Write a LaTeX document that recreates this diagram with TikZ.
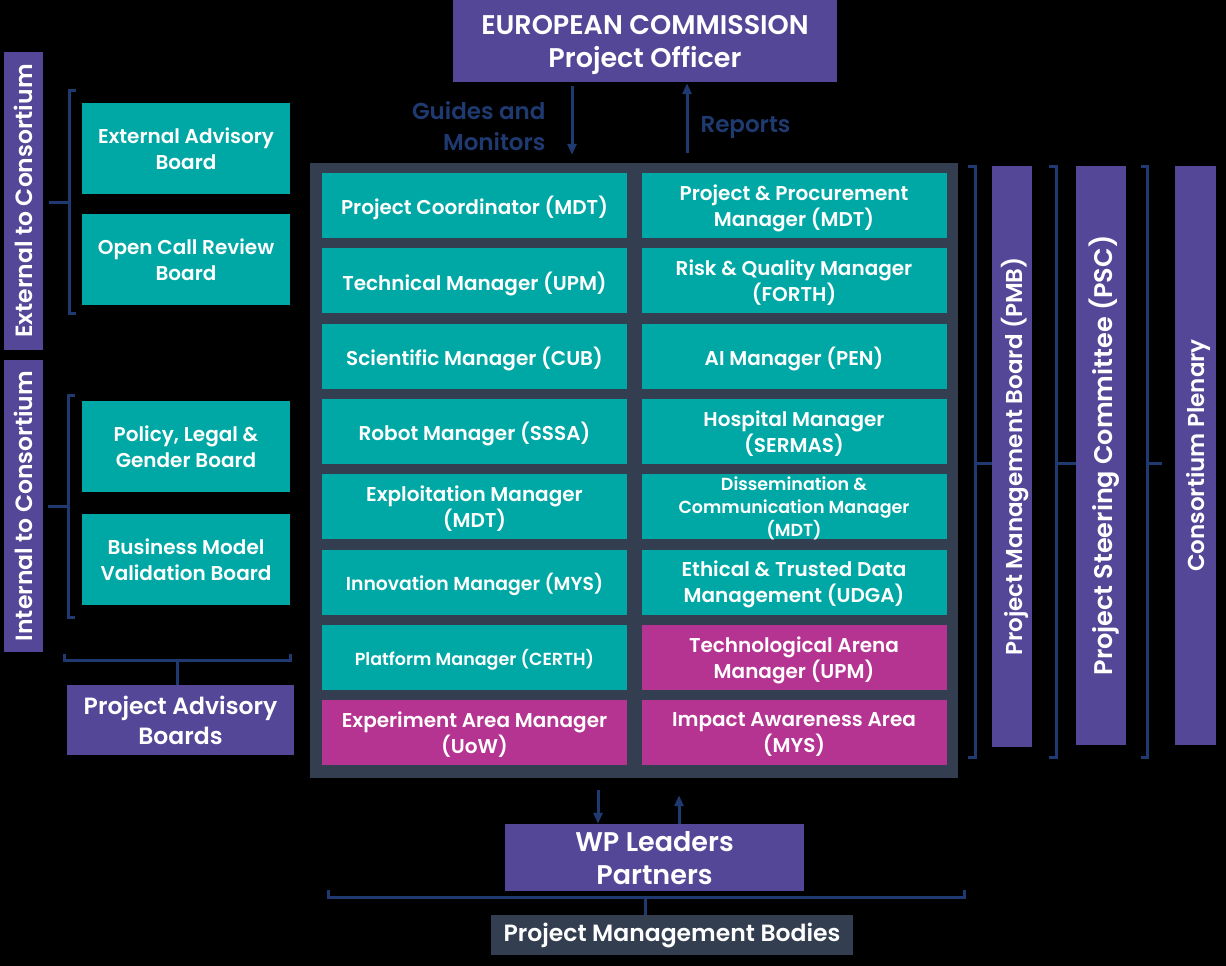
\documentclass[tikz,border=0pt]{standalone}
\usepackage{fontspec}
\setmainfont{Poppins}[BoldFont={Poppins SemiBold}]
\usetikzlibrary{arrows.meta}

\definecolor{ecpurple}{RGB}{85,71,152}
\definecolor{mteal}{RGB}{0,168,165}
\definecolor{mpink}{RGB}{181,52,145}
\definecolor{slate}{RGB}{51,63,80}
\definecolor{navy}{RGB}{31,58,112}

\tikzset{
  role/.style={fill=mteal, text=white, minimum width=305pt, minimum height=65pt,
    inner sep=0pt, text depth=0pt, align=center, font=\bfseries\fontsize{20}{26}\selectfont},
  area/.style={role, fill=mpink},
  board/.style={role, minimum width=208pt, minimum height=91pt},
  body/.style={fill=ecpurple, text=white, inner sep=0pt, text depth=0pt, align=center,
    font=\bfseries\fontsize{23.5}{30}\selectfont},
  sidebar/.style={body, rotate=90},
  brk/.style={navy, line width=3pt},
  flow/.style={navy, line width=3pt, -{Triangle[length=11pt,width=9pt]}},
}

\begin{document}
\begin{tikzpicture}[x=1pt, y=-1pt]

% Fondo
\fill[black] (0,0) rectangle (1226,966);

% Comisión y flujos
\node[body, minimum width=384pt, minimum height=82pt, text depth=-3pt, font=\bfseries\fontsize{27}{33}\selectfont]
  (ec) at (645,41) {EUROPEAN COMMISSION\\Project Officer};
\node[fill=slate, minimum width=648pt, minimum height=615pt] (main) at (634,470.5) {};
\draw[flow, shorten <=4pt, shorten >=8pt] ([xshift=-73pt]ec.south) -- ([xshift=-73pt]ec.south |- main.north);
\draw[flow, shorten <=10pt, shorten >=1pt] ([xshift=42pt]ec.south |- main.north) -- ([xshift=42pt]ec.south);
\node[navy, anchor=east, align=right, font=\bfseries\fontsize{23}{31}\selectfont] (guides) at (549,126) {Guides and\\Monitors};
\node[navy, anchor=west, font=\bfseries\fontsize{23}{31}\selectfont] (reports) at (697,128) {Reports};

% Gestores (izquierda)
\node[role] (pc)  at (474.5,205.5) {Project Coordinator (MDT)};
\node[role] (tm)  at (474.5,280.8) {Technical Manager (UPM)};
\node[role] (sm)  at (474.5,356.1) {Scientific Manager (CUB)};
\node[role] (rm)  at (474.5,431.4) {Robot Manager (SSSA)};
\node[role] (em)  at (474.5,506.7) {Exploitation Manager\\(MDT)};
\node[role, font=\bfseries\fontsize{18.8}{26}\selectfont] (im) at (474.5,582) {Innovation Manager (MYS)};
\node[role, font=\bfseries\fontsize{17.5}{22}\selectfont] (plm) at (474.5,657.3) {Platform Manager (CERTH)};
\node[area] (eam) at (474.5,732.6) {Experiment Area Manager\\(UoW)};

% Gestores (derecha)
\node[role] (ppm) at (794,205.5) {Project \& Procurement\\Manager (MDT)};
\node[role] (rqm) at (794,280.8) {Risk \& Quality Manager\\(FORTH)};
\node[role] (aim) at (794,356.1) {AI Manager (PEN)};
\node[role] (hm)  at (794,431.4) {Hospital Manager\\(SERMAS)};
\node[role, font=\bfseries\fontsize{17.5}{23}\selectfont] (dcm) at (794,506.7) {Dissemination \&\\Communication Manager\\(MDT)};
\node[role] (etd) at (794,582) {Ethical \& Trusted Data\\Management (UDGA)};
\node[area] (tam) at (794,657.3) {Technological Arena\\Manager (UPM)};
\node[area] (iaa) at (794,732.6) {Impact Awareness Area\\(MYS)};

% Consejos asesores
\node[board] (eab)  at (186,148.5) {External Advisory\\Board};
\node[board] (ocrb) at (186,259.5) {Open Call Review\\Board};
\node[board] (plg)  at (186,446.5) {Policy, Legal \&\\Gender Board};
\node[board] (bmvb) at (186,559.5) {Business Model\\Validation Board};
\node[sidebar, minimum width=298pt, minimum height=39pt] (extc) at (23.5,201) {External to Consortium};
\node[sidebar, minimum width=292pt, minimum height=39pt] (intc) at (23.5,506) {Internal to Consortium};
\node[body, minimum width=227pt, minimum height=70pt] (pab) at (180.5,720) {Project Advisory\\Boards};

% Corchetes izquierda
\draw[brk] (76,90) -- (69,90) -- (69,313) -- (76,313);
\coordinate (extk) at (69,202);
\draw[brk] (extk) -- ([xshift=6pt]extk -| extc.south);
\draw[brk] (75,395) -- (68,395) -- (68,617) -- (75,617);
\coordinate (intk) at (68,506);
\draw[brk] (intk) -- ([xshift=5pt]intk -| intc.south);
\draw[brk] (64,654) -- (64,660) -- (290,660) -- (290,654);
\coordinate (pabk) at (177,660);
\draw[brk] (pabk) -- (pabk |- pab.north);

% Órganos (derecha)
\node[sidebar, minimum width=581pt, minimum height=40pt, font=\bfseries\fontsize{23}{26}\selectfont] (pmb) at (1012,456.5) {Project Management Board (PMB)};
\node[sidebar, minimum width=579pt, minimum height=50pt, font=\bfseries\fontsize{25.5}{30}\selectfont] (psc) at (1101,455.5) {Project Steering Committee (PSC)};
\node[sidebar, minimum width=579pt, minimum height=41pt, font=\bfseries\fontsize{23}{26}\selectfont] (cp) at (1195.5,455.5) {Consortium Plenary};
\draw[brk] (968,166) -- (975,166) -- (975,757) -- (968,757);
\coordinate (pmbk) at (975,463);
\draw[brk] (pmbk) -- (pmbk -| pmb.north);
\draw[brk] (1049,166) -- (1056,166) -- (1056,757) -- (1049,757);
\coordinate (psck) at (1056,463);
\draw[brk] (psck) -- (psck -| psc.north);
\draw[brk] (1141,166) -- (1147,166) -- (1147,757) -- (1141,757);
\coordinate (cpk) at (1147,463);
\draw[brk] (cpk) -- ([xshift=-13pt]cpk -| cp.north);

% Líderes y órganos de gestión
\node[body, minimum width=299pt, minimum height=67pt, font=\bfseries\fontsize{27}{33}\selectfont] (wp) at (654.5,857.5) {WP Leaders\\Partners};
\draw[flow, shorten <=12pt] ([xshift=-56.5pt]wp.north |- main.south) -- ([xshift=-56.5pt]wp.north);
\draw[flow, shorten >=17pt] ([xshift=24.5pt]wp.north) -- ([xshift=24.5pt]wp.north |- main.south);
\node[fill=slate, text=white, minimum width=362pt, minimum height=40pt, inner sep=0pt,
  font=\bfseries\fontsize{23.5}{26}\selectfont] (pmbo) at (672,935) {Project Management Bodies};
\draw[brk] (328,890) -- (328,897) -- (964,897) -- (964,890);
\coordinate (pmbok) at (645,897);
\draw[brk] (pmbok) -- (pmbok |- pmbo.north);

\end{tikzpicture}
\end{document}
